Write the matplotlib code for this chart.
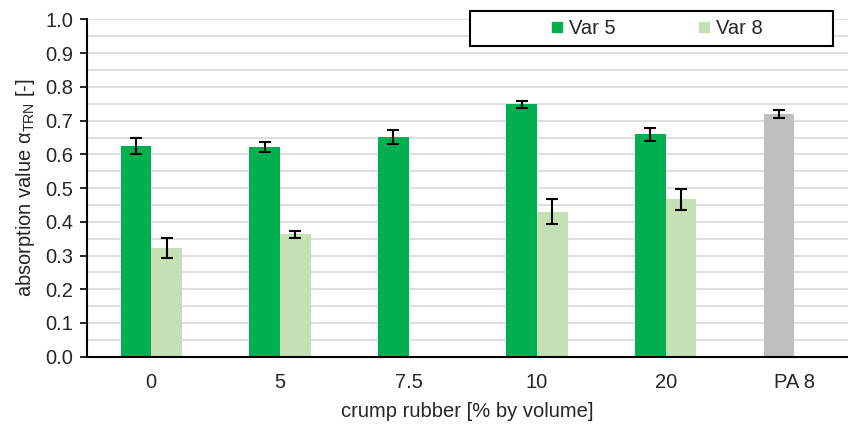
import numpy as np
import matplotlib
matplotlib.use("Agg")
import matplotlib.pyplot as plt
from matplotlib.lines import Line2D
from matplotlib.patches import Rectangle
from matplotlib.ticker import MultipleLocator, FormatStrFormatter

plt.rcParams['font.family'] = ['Liberation Sans', 'DejaVu Sans']

categories = ["0", "5", "7.5", "10", "20", "PA 8"]
var5 = [0.625, 0.622, 0.651, 0.748, 0.659, 0.719]
var5_err = [0.024, 0.016, 0.020, 0.011, 0.020, 0.012]
var8 = [0.322, 0.363, np.nan, 0.430, 0.467, np.nan]
var8_err = [0.030, 0.010, 0.0, 0.037, 0.031, 0.0]

c_var5 = "#00B050"
c_var8 = "#C5E0B4"
c_ref = "#BFBFBF"
fs = 14.5

fig = plt.figure(figsize=(8.48, 4.25), dpi=100)
ax = fig.add_axes([87 / 848, 1 - 356.7 / 425, (848 - 87) / 848, (356.7 - 19.5) / 425])

x = np.arange(len(categories))
w = 0.239
colors5 = [c_var5] * (len(categories) - 1) + [c_ref]

ax.bar(x - w / 2, var5, width=w, color=colors5, zorder=2)
ax.bar(x + w / 2, var8, width=w, color=c_var8, zorder=2)

eb = dict(fmt="none", ecolor="black", elinewidth=1.5, capsize=4, capthick=1.5, zorder=3)
ax.errorbar(x - w / 2, var5, yerr=var5_err, **eb)
m8 = ~np.isnan(np.array(var8))
ax.errorbar((x + w / 2)[m8], np.array(var8)[m8], yerr=np.array(var8_err)[m8], **eb)

ax.set_ylim(0, 1.0)
ax.set_xlim(-0.5, 5.5 - (858.6 - 848) / 128.6)
ax.yaxis.set_major_locator(MultipleLocator(0.1))
ax.yaxis.set_minor_locator(MultipleLocator(0.05))
ax.yaxis.set_major_formatter(FormatStrFormatter("%.1f"))
ax.grid(axis="y", which="both", color="#D9D9D9", linewidth=1.2, zorder=0)
ax.set_axisbelow(True)

ax.set_xticks(x)
ax.set_xticklabels(categories)
ax.tick_params(axis="x", length=0, pad=12, labelsize=fs, colors="#262626")
ax.tick_params(axis="y", which="major", length=5, width=1.2, pad=5, labelsize=fs,
               colors="black", labelcolor="#262626")
ax.tick_params(axis="y", which="minor", length=0)

for s in ["top", "right"]:
    ax.spines[s].set_visible(False)
for s in ["left", "bottom"]:
    ax.spines[s].set_linewidth(1.5)
    ax.spines[s].set_color("black")

ax.set_xlabel("crump rubber [% by volume]", fontsize=fs, color="#262626", labelpad=7)
ax.set_ylabel(r"absorption value $\mathregular{\alpha_{TRN}}$ [-]", fontsize=fs,
              color="#262626", labelpad=6)

# legend box
fig.patches.append(Rectangle((470 / 848, 1 - 45.7 / 425), (833 - 470) / 848, 34.7 / 425,
                             transform=fig.transFigure, facecolor="white",
                             edgecolor="black", linewidth=1.5, zorder=5))
handles = [Line2D([], [], marker="s", linestyle="none", color=c_var5, markersize=7.5),
           Line2D([], [], marker="s", linestyle="none", color=c_var8, markersize=7.5)]
fig.legend(handles, ["Var 5", "Var 8"], ncol=2, loc="center",
           bbox_to_anchor=(657 / 848, 1 - 28.3 / 425), frameon=False,
           fontsize=fs, handlelength=0.6, handletextpad=0.3, columnspacing=4.1,
           labelcolor="#262626")

fig.savefig("out.png", dpi=100)
